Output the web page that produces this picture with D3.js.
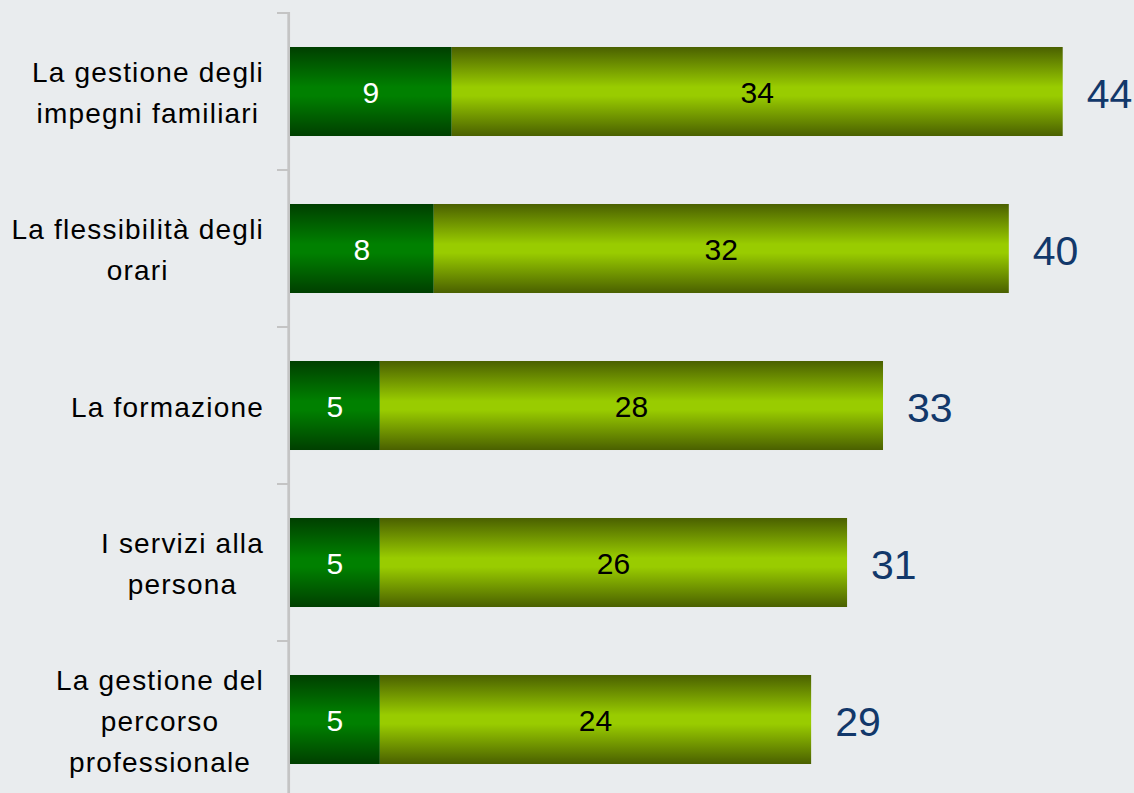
<!DOCTYPE html>
<html><head><meta charset="utf-8">
<script src="https://cdn.jsdelivr.net/npm/d3@7"></script>
<style>
html,body{margin:0;padding:0;background:#E9ECEE;}
svg{display:block;}
</style></head>
<body>
<script>
const categories = [
  ["La gestione degli", "impegni familiari"],
  ["La flessibilità degli", "orari"],
  ["La formazione"],
  ["I servizi alla", "persona"],
  ["La gestione del", "percorso", "professionale"]
];
const darkValues = [9, 8, 5, 5, 5];
const lightValues = [34, 32, 28, 26, 24];
const totalLabels = [44, 40, 33, 31, 29];

const W = 1134, H = 793;
const svg = d3.select("body").append("svg").attr("width", W).attr("height", H);
svg.append("rect").attr("width", W).attr("height", H).attr("fill", "#E9ECEE");

const defs = svg.append("defs");
function grad(id, edge, mid) {
  const g = defs.append("linearGradient").attr("id", id)
    .attr("x1", 0).attr("y1", 0).attr("x2", 0).attr("y2", 1);
  [[0, edge], [0.45, mid], [0.55, mid], [1, edge]].forEach(([o, c]) =>
    g.append("stop").attr("offset", o).attr("stop-color", c));
}
grad("gDark", "#003F00", "#008000");
grad("gLight", "#4A6000", "#99CC00");

const ids = categories.map((c, i) => i);
const y = d3.scaleBand().domain(ids).range([13, 798])
  .paddingInner(0.433).paddingOuter(0.2165);
const x = d3.scaleLinear().domain([0, 50]).range([290, 1188.5]);

// axis
const axisX = 288.7;
svg.append("line").attr("x1", axisX).attr("x2", axisX).attr("y1", 12).attr("y2", 798)
  .attr("stroke", "#C4C4C4").attr("stroke-width", 2.7);
const step = y.step();
const tickYs = d3.range(ids.length + 1).map(i => 13 + i * step);
svg.selectAll(".tick").data(tickYs).enter().append("line")
  .attr("x1", 277).attr("x2", axisX).attr("y1", d => d).attr("y2", d => d)
  .attr("stroke", "#C4C4C4").attr("stroke-width", 2);

const font = "'Liberation Sans', Arial, sans-serif";

// bars
const g = svg.append("g");
ids.forEach(i => {
  const y0 = y(i), bh = y.bandwidth(), cy = y0 + bh / 2;
  const d = darkValues[i], l = lightValues[i];
  g.append("rect").attr("x", x(0)).attr("y", y0).attr("width", x(d) - x(0)).attr("height", bh)
    .attr("fill", "url(#gDark)");
  g.append("rect").attr("x", x(d)).attr("y", y0).attr("width", x(d + l) - x(d)).attr("height", bh)
    .attr("fill", "url(#gLight)");
  g.append("text").attr("x", (x(0) + x(d)) / 2).attr("y", cy + 1 + 0.358 * 30)
    .attr("text-anchor", "middle").attr("font-family", font).attr("font-size", 30)
    .attr("fill", "#FFFFFF").text(d);
  g.append("text").attr("x", (x(d) + x(d + l)) / 2).attr("y", cy + 1 + 0.358 * 30)
    .attr("text-anchor", "middle").attr("font-family", font).attr("font-size", 30)
    .attr("fill", "#000000").text(l);
  g.append("text").attr("x", x(d + l) + 24).attr("y", cy + 2 + 0.358 * 41)
    .attr("text-anchor", "start").attr("font-family", font).attr("font-size", 41)
    .attr("fill", "#12386A").text(totalLabels[i]);
});

// category labels: lines centered within block, block right-aligned
const lineH = 41;
ids.forEach(i => {
  const lines = categories[i];
  const cy = y(i) + y.bandwidth() / 2;
  const t = svg.append("g");
  const texts = lines.map((s, k) => t.append("text")
    .attr("font-family", font).attr("font-size", 28).attr("letter-spacing", "1.2px")
    .attr("fill", "#000").attr("text-anchor", "middle")
    .attr("y", cy + 1 + (k - (lines.length - 1) / 2) * lineH + 0.36 * 28)
    .text(s));
  const maxW = d3.max(texts, tx => tx.node().getComputedTextLength());
  const cx = 264 - maxW / 2;
  texts.forEach(tx => tx.attr("x", cx));
});
</script>
</body></html>
